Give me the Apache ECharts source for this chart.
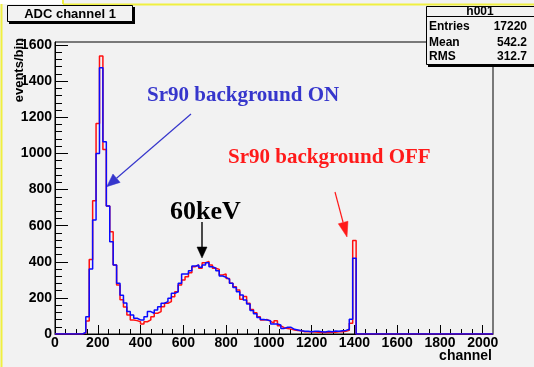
<!DOCTYPE html>
<html>
<head>
<meta charset="utf-8">
<script src="https://cdn.jsdelivr.net/npm/echarts@6/dist/echarts.min.js"></script>
<style>
  html, body { margin: 0; padding: 0; background: #f2f2f2; }
  #c { width: 534px; height: 367px; }
</style>
</head>
<body>
<div id="c"></div>
<script>
// ADC spectrum, 16 channels per bin, bins 0..87 (everything above channel 1408 is empty)
const binWidth = 16;
const channelMax = 2048;

// "Sr90 background ON" (blue)
const onCounts = [
  0, 0, 0, 0, 0, 0, 0, 0, 8, 96,
  360, 631, 1000, 1475, 1065, 709, 511, 382, 281, 215,
  172, 124, 105, 87, 78, 78, 96, 124, 115, 133,
  151, 170, 179, 198, 225, 234, 281, 332, 332, 350,
  376, 382, 369, 382, 395, 373, 364, 350, 321, 314,
  303, 281, 258, 234, 216, 188, 166, 130, 112, 92,
  80, 78, 74, 55, 55, 50, 31, 37, 37, 26,
  22, 18, 15, 15, 13, 15, 15, 13, 11, 15,
  13, 17, 15, 18, 20, 26, 81, 419
];

// "Sr90 background OFF" (red)
const offCounts = [
  0, 0, 0, 0, 0, 0, 0, 0, 5, 72,
  413, 738, 1166, 1540, 1022, 709, 566, 382, 271, 190,
  150, 105, 78, 74, 68, 55, 68, 78, 96, 115,
  124, 151, 170, 179, 206, 234, 271, 299, 317, 339,
  373, 382, 364, 395, 401, 382, 364, 358, 327, 332,
  308, 281, 262, 244, 192, 207, 170, 135, 118, 96,
  78, 80, 70, 60, 74, 45, 35, 30, 27, 22,
  20, 18, 13, 12, 13, 11, 10, 8, 9, 8,
  10, 9, 13, 12, 15, 20, 60, 518
];

const xTickLabels = [0, 200, 400, 600, 800, 1000, 1200, 1400, 1600, 1800, 2000];
const yTickLabels = [0, 200, 400, 600, 800, 1000, 1200, 1400, 1600];

const histTitle = 'ADC channel 1';
const statsName = 'h001';
const statsLabels = ['Entries', 'Mean', 'RMS'];
const statsValues = ['17220', '542.2', '312.7'];

// ---- helpers ----
function histData(counts) {
  const d = counts.map((v, i) => [i * binWidth, v]);
  d.push([counts.length * binWidth, 0]);
  d.push([channelMax, 0]);
  return d;
}
function range(a, b, step) {
  const out = [];
  for (let v = a; v <= b + 1e-9; v += step) out.push(v);
  return out;
}
function arrow(x1, y1, x2, y2, len, half, color, lw) {
  const dx = x2 - x1, dy = y2 - y1, L = Math.hypot(dx, dy);
  const ux = dx / L, uy = dy / L;
  const bx = x2 - ux * len, by = y2 - uy * len;
  return [
    { type: 'line', shape: { x1: x1, y1: y1, x2: bx, y2: by }, style: { stroke: color, lineWidth: lw } },
    { type: 'polygon', shape: { points: [[x2, y2], [bx - uy * half, by + ux * half], [bx + uy * half, by - ux * half]] },
      style: { fill: color, stroke: color, lineWidth: 0.5 } }
  ];
}

const yMax = 1617;
const sans = '"Liberation Sans", Arial, sans-serif';
const serif = '"Liberation Serif", "Times New Roman", serif';
const bg = '#f2f2f2';

const chart = echarts.init(document.getElementById('c'), null, { renderer: 'canvas' });

const graphics = [];
// window frame edges
graphics.push({ type: 'rect', shape: { x: 0, y: 0, width: 64, height: 4 }, style: { fill: '#ffffff' } });
graphics.push({ type: 'line', shape: { x1: 1.5, y1: 4, x2: 1.5, y2: 367 }, style: { stroke: '#f0f040', lineWidth: 2 } });
graphics.push({ type: 'line', shape: { x1: 63, y1: 4.5, x2: 534, y2: 4.5 }, style: { stroke: '#f0f040', lineWidth: 2 } });
graphics.push({ type: 'line', shape: { x1: 63, y1: 0, x2: 63, y2: 4 }, style: { stroke: '#f0f040', lineWidth: 2 } });

// title box with shadow
graphics.push({ type: 'rect', shape: { x: 9, y: 7, width: 126, height: 17 }, style: { fill: '#000' } });
graphics.push({ type: 'rect', shape: { x: 7.5, y: 5.5, width: 125, height: 16 }, style: { fill: bg, stroke: '#000', lineWidth: 1 } });
graphics.push({ type: 'text', style: { text: histTitle, x: 70, y: 14, font: 'bold 13px ' + sans, fill: '#000', textAlign: 'center', textVerticalAlign: 'middle' } });

// statistics box with shadow
graphics.push({ type: 'rect', shape: { x: 428, y: 8, width: 110, height: 59 }, style: { fill: '#000' } });
graphics.push({ type: 'rect', shape: { x: 426.5, y: 6.5, width: 110, height: 58 }, style: { fill: bg, stroke: '#000', lineWidth: 1 } });
graphics.push({ type: 'line', shape: { x1: 426.5, y1: 16.5, x2: 534, y2: 16.5 }, style: { stroke: '#000', lineWidth: 1 } });
graphics.push({ type: 'text', style: { text: statsName, x: 480, y: 11.5, font: 'bold 12px ' + sans, fill: '#000', textAlign: 'center', textVerticalAlign: 'middle' } });
const rowY = [27, 42.3, 57];
statsLabels.forEach((t, i) => {
  graphics.push({ type: 'text', style: { text: t, x: 429, y: rowY[i], font: 'bold 12px ' + sans, fill: '#000', textAlign: 'left', textVerticalAlign: 'middle' } });
  graphics.push({ type: 'text', style: { text: statsValues[i], x: 527, y: rowY[i], font: 'bold 12px ' + sans, fill: '#000', textAlign: 'right', textVerticalAlign: 'middle' } });
});

// axis titles
graphics.push({ type: 'text', rotation: Math.PI / 2, x: 19, y: 38,
  style: { text: 'events/bin', x: 0, y: 0, font: 'bold 13px ' + sans, fill: '#000', textAlign: 'right', textVerticalAlign: 'middle' } });
graphics.push({ type: 'text', style: { text: 'channel', x: 492, y: 356, font: 'bold 14px ' + sans, fill: '#000', textAlign: 'right', textVerticalAlign: 'middle' } });

// annotations
const blueInk = '#3636cc', redInk = '#ff1a1a';
graphics.push({ type: 'text', style: { text: 'Sr90 background ON', x: 147, y: 96, font: 'bold 21px ' + serif, fill: blueInk, textAlign: 'left', textVerticalAlign: 'middle' } });
graphics.push({ type: 'text', style: { text: 'Sr90 background OFF', x: 228, y: 158, font: 'bold 21px ' + serif, fill: redInk, textAlign: 'left', textVerticalAlign: 'middle' } });
graphics.push({ type: 'text', style: { text: '60keV', x: 170, y: 212, font: 'bold 26px ' + serif, fill: '#000', textAlign: 'left', textVerticalAlign: 'middle' } });
graphics.push(...arrow(191, 114, 106.7, 186.7, 13, 5.5, blueInk, 1.2));
graphics.push(...arrow(335, 192, 347, 237, 15, 5, redInk, 1.2));
graphics.push(...arrow(202, 222, 202, 258, 11, 5, '#000', 1.4));

const axisFont = { fontSize: 14, fontWeight: 'bold', fontFamily: sans, color: '#000', formatter: v => String(v) };

chart.setOption({
  animation: false,
  backgroundColor: bg,
  grid: { left: 55, right: 41, top: 42, bottom: 33, show: true, borderColor: '#000', borderWidth: 1, backgroundColor: bg },
  xAxis: [
    {
      type: 'value', min: 0, max: channelMax,
      axisLine: { show: true, onZero: false, lineStyle: { color: '#000', width: 1 } },
      axisTick: { show: true, inside: true, length: 9, customValues: xTickLabels, lineStyle: { color: '#000' } },
      axisLabel: Object.assign({ margin: 2, customValues: xTickLabels }, axisFont),
      splitLine: { show: false }
    },
    {
      type: 'value', min: 0, max: channelMax, position: 'bottom',
      axisLine: { show: false },
      axisTick: { show: true, inside: true, length: 5, customValues: range(0, 2000, 50), lineStyle: { color: '#000' } },
      axisLabel: { show: false },
      splitLine: { show: false }
    }
  ],
  yAxis: [
    {
      type: 'value', min: 0, max: yMax, position: 'left',
      axisLine: { show: true, onZero: false, lineStyle: { color: '#000', width: 1 } },
      axisTick: { show: true, inside: true, length: 13, customValues: yTickLabels, lineStyle: { color: '#000' } },
      axisLabel: Object.assign({ margin: 3, customValues: yTickLabels }, axisFont),
      splitLine: { show: false }
    },
    {
      type: 'value', min: 0, max: yMax, position: 'left',
      axisLine: { show: false },
      axisTick: { show: true, inside: true, length: 7, customValues: range(0, 1600, 40), lineStyle: { color: '#000' } },
      axisLabel: { show: false },
      splitLine: { show: false }
    }
  ],
  series: [
    {
      name: 'Sr90 background OFF', type: 'line', step: 'end', symbol: 'none',
      data: histData(offCounts), xAxisIndex: 0, yAxisIndex: 0,
      lineStyle: { color: '#ff1010', width: 1.5 }, z: 3
    },
    {
      name: 'Sr90 background ON', type: 'line', step: 'end', symbol: 'none',
      data: histData(onCounts), xAxisIndex: 0, yAxisIndex: 0,
      lineStyle: { color: '#0a0aff', width: 1.5 }, z: 4
    }
  ],
  graphic: { elements: graphics }
});
</script>
</body>
</html>
